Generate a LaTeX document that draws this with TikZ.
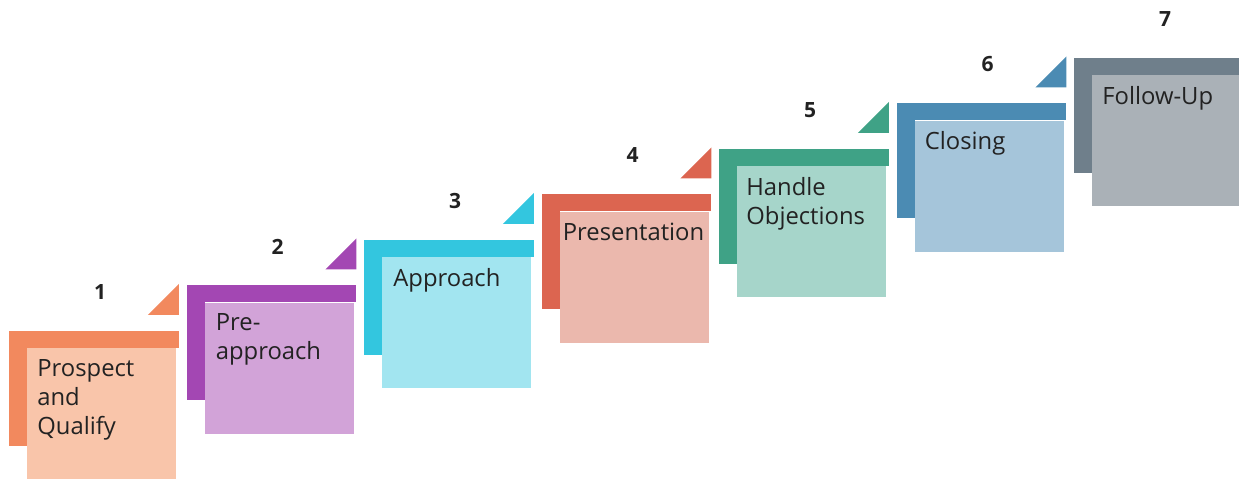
\documentclass[tikz,border=0pt]{standalone}
\usepackage{fontspec}
\setmainfont{Open Sans}
\usetikzlibrary{positioning, calc}

\definecolor{ink}{HTML}{222222}
\definecolor{dk1}{HTML}{F2895E}
\definecolor{lt1}{HTML}{F9C5AA}
\definecolor{dk2}{HTML}{A347B3}
\definecolor{lt2}{HTML}{D2A3D8}
\definecolor{dk3}{HTML}{33C6DF}
\definecolor{lt3}{HTML}{A2E5F0}
\definecolor{dk4}{HTML}{DC6550}
\definecolor{lt4}{HTML}{EBB8AD}
\definecolor{dk5}{HTML}{3FA286}
\definecolor{lt5}{HTML}{A6D5CA}
\definecolor{dk6}{HTML}{4B8BB3}
\definecolor{lt6}{HTML}{A5C5DA}
\definecolor{dk7}{HTML}{6F7F8B}
\definecolor{lt7}{HTML}{AAB1B7}

\begin{document}
\begin{tikzpicture}[
  x=0.5pt, y=-0.5pt,
  back/.style={rectangle, inner sep=0pt, anchor=north west,
               minimum width=84.5pt, minimum height=57pt},
  front/.style={rectangle, inner sep=0pt, anchor=north west,
                minimum width=74.5pt, minimum height=65.5pt},
  lbl/.style={anchor=north west, inner sep=0pt, align=left, text=ink,
              font=\fontsize{11.9}{14.5}\selectfont},
  num/.style={inner sep=0pt, text=ink, font=\fontsize{10.5}{12}\selectfont\bfseries}
]
\path[use as bounding box, clip] (0,0) rectangle (1239,480);

\foreach \i/\txt/\tx in {1/{Prospect\\and\\Qualify}/10, 2/{Pre-\\approach}/11,
    3/Approach/11, 4/Presentation/3, 5/{Handle\\Objections}/9,
    6/Closing/10, 7/Follow-Up/10} {
  \pgfmathsetmacro{\dx}{9+177.5*(\i-1)}
  \pgfmathsetmacro{\dy}{331-45.5*(\i-1)}
  \node[back] (d\i) at (\dx,\dy) {};
  % L-shaped back tab
  \fill[dk\i] (d\i.north west) rectangle ($(d\i.north east)+(0,17)$);
  \fill[dk\i] (d\i.north west) rectangle ($(d\i.south west)+(18,0)$);
  \node[front, fill=lt\i] (l\i) at (\dx+18,\dy+17) {};
  \node[lbl] (t\i) at ($(l\i.north west)+(\tx,11)$) {\txt};
  \node[num] (n\i) at ($(d\i.north west)+(91,-39)$) {\i};
  % corner flag
  \ifnum\i<7
    \fill[dk\i] ($(d\i.north east)+(0,-16)$) -- ++(-31,0) -- ++(31,-31) -- cycle;
  \fi
}
\end{tikzpicture}
\end{document}
